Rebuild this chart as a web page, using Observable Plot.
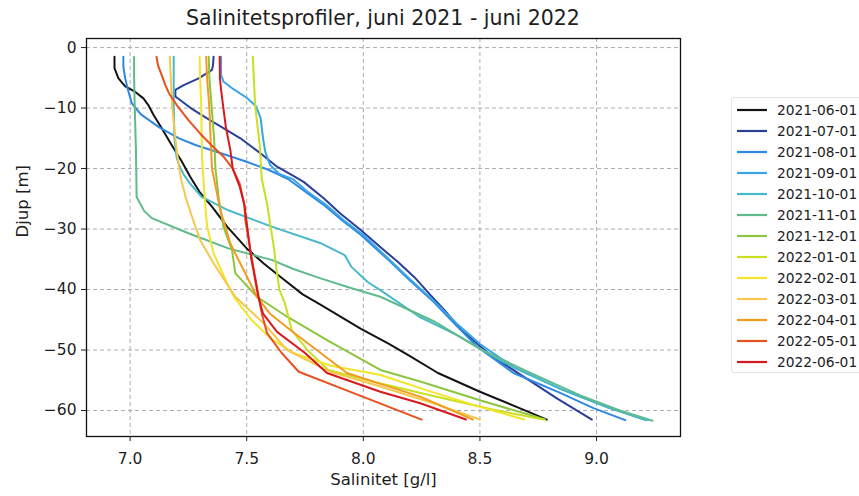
<!DOCTYPE html>
<html>
<head>
<meta charset="utf-8">
<script src="https://cdn.jsdelivr.net/npm/d3@7"></script>
<script src="https://cdn.jsdelivr.net/npm/@observablehq/plot@0.6"></script>
<style>
  html, body { margin: 0; padding: 0; background: #fff; }
  #wrap { position: relative; width: 859px; height: 496px; font-family: "DejaVu Sans", sans-serif; color: #1e1e1e; overflow: hidden; }
  #title { position: absolute; left: 86px; width: 594px; top: 5px; text-align: center; font-size: 20.5px; line-height: 26px; }
  #legend { position: absolute; left: 731px; top: 97px; width: 140px; height: 276px; border: 1px solid #e2e2e2; border-radius: 3px; box-sizing: border-box; }
  .row { position: absolute; left: 0; height: 20px; display: flex; align-items: center; font-size: 13.8px; }
  .row svg { margin-left: 5px; margin-right: 10px; }
</style>
</head>
<body>
<div id="wrap">
  <div id="title">Salinitetsprofiler, juni 2021 - juni 2022</div>
  <div id="chart"></div>
  <div id="legend"></div>
</div>
<script>
// Dates (series labels)
const dates = ["2021-06-01","2021-07-01","2021-08-01","2021-09-01","2021-10-01","2021-11-01","2021-12-01","2022-01-01","2022-02-01","2022-03-01","2022-04-01","2022-05-01","2022-06-01"];
const palette = ["#141414","#2b3f98","#2f88de","#37a6e8","#47b9c9","#5fba8c","#8cc63f","#c8df22","#f3e42c","#f6c74a","#f29b21","#e6521f","#d8191d"];

// [salinity g/l, depth m]
const jun21 = [[6.933,-1.5],[6.933,-3.4],[6.95,-5.1],[6.979,-6.4],[7.021,-7.3],[7.057,-8.4],[7.078,-9.5],[7.10,-11.1],[7.135,-13.3],[7.178,-16.1],[7.221,-18.8],[7.257,-21.3],[7.30,-24],[7.351,-26.3],[7.416,-29.6],[7.50,-33.2],[7.573,-35.7],[7.644,-37.9],[7.74,-40.8],[7.816,-42.5],[7.99,-46.5],[8.11,-49],[8.20,-51],[8.32,-53.8],[8.50,-56.9],[8.67,-59.6],[8.787,-61.5]];
const jul21 = [[7.358,-1.5],[7.355,-3],[7.351,-3.7],[7.294,-5.1],[7.23,-6.2],[7.194,-7.0],[7.194,-8.1],[7.26,-10],[7.33,-11.7],[7.40,-13.3],[7.473,-15],[7.56,-17.5],[7.63,-19.7],[7.70,-21.2],[7.744,-22.2],[7.83,-24.9],[7.90,-27.4],[7.99,-30.2],[8.07,-32.9],[8.15,-35.5],[8.22,-38],[8.29,-41],[8.35,-43.5],[8.42,-46.7],[8.544,-50.8],[8.687,-54.4],[8.83,-58],[8.98,-61.5]];
const aug21 = [[6.971,-1.5],[6.971,-3.1],[6.979,-5.1],[6.993,-7.3],[7.007,-9.2],[7.045,-11],[7.125,-13.2],[7.21,-15],[7.28,-16.1],[7.393,-17.5],[7.493,-18.8],[7.593,-20.2],[7.68,-21.8],[7.75,-23.8],[7.83,-26],[7.907,-28.5],[7.99,-31],[8.107,-35.1],[8.2,-38.5],[8.3,-42],[8.4,-46],[8.487,-49.4],[8.644,-53.8],[8.844,-57.1],[8.987,-59.6],[9.123,-61.6]];
const sep21 = [[7.39,-1.5],[7.39,-4.5],[7.40,-5.6],[7.44,-6.8],[7.50,-8.3],[7.54,-9.7],[7.56,-11.7],[7.57,-15],[7.58,-17.3],[7.60,-19.4],[7.64,-20.9],[7.70,-21.8],[7.76,-23.8],[7.84,-26],[7.915,-28.5],[8.0,-31],[8.11,-35],[8.2,-38.3],[8.3,-41.8],[8.4,-45.6],[8.5,-49],[8.65,-53],[8.85,-56.5],[9.05,-59.5],[9.21,-61.6]];
const oct21 = [[7.187,-1.5],[7.187,-9.5],[7.19,-15],[7.20,-18.3],[7.21,-19.4],[7.23,-21],[7.257,-22.5],[7.307,-24.7],[7.421,-26.9],[7.607,-29.6],[7.821,-32.4],[7.92,-34.3],[7.95,-36.3],[8.02,-38.8],[8.073,-40.1],[8.24,-44.5],[8.4,-47.5],[8.6,-52],[8.85,-56.5],[9.05,-59.5],[9.22,-61.6]];
const nov21 = [[7.017,-1.5],[7.017,-5],[7.02,-10],[7.025,-17],[7.028,-24.7],[7.06,-27],[7.093,-28.2],[7.25,-30.7],[7.421,-33.2],[7.607,-35.1],[7.70,-36.6],[7.82,-38.2],[7.95,-39.8],[8.073,-41.2],[8.3,-45.2],[8.5,-49.8],[8.7,-53.5],[8.93,-57.5],[9.1,-60],[9.24,-61.7]];
const dec21 = [[7.337,-1.5],[7.34,-5],[7.35,-10],[7.36,-15],[7.366,-20],[7.38,-25],[7.40,-29.6],[7.437,-33.5],[7.451,-37.3],[7.544,-41.2],[7.673,-44.5],[7.85,-48.5],[8.073,-53.3],[8.244,-55.2],[8.5,-58.3],[8.78,-61.5]];
const jan22 = [[7.526,-1.5],[7.536,-9.5],[7.557,-16.6],[7.564,-21.6],[7.587,-25.8],[7.616,-32.9],[7.628,-36.8],[7.64,-40],[7.664,-42.3],[7.693,-46.7],[7.76,-50],[7.85,-53.3],[8.07,-55.5],[8.3,-57.6],[8.55,-59.8],[8.77,-61.5]];
const feb22 = [[7.298,-1.5],[7.30,-5],[7.305,-10],[7.307,-15],[7.309,-18.6],[7.32,-25],[7.33,-29.6],[7.358,-34],[7.416,-39],[7.45,-41.5],[7.52,-45],[7.6,-48],[7.7,-50.5],[7.86,-52.6],[8.07,-54.1],[8.3,-57],[8.5,-59.4],[8.69,-61.5]];
const mar22 = [[7.17,-1.5],[7.18,-9.5],[7.194,-15],[7.208,-19.4],[7.22,-22],[7.24,-25],[7.27,-28.5],[7.30,-31.8],[7.358,-35.7],[7.451,-41.2],[7.573,-45.6],[7.673,-50],[7.859,-53.6],[8.07,-56],[8.3,-58.8],[8.50,-61.5]];
const apr22 = [[7.326,-1.5],[7.33,-5],[7.34,-10],[7.345,-15],[7.351,-20],[7.387,-26.9],[7.43,-32.4],[7.501,-37.9],[7.544,-41.2],[7.60,-44],[7.687,-46.7],[7.80,-50],[7.93,-53.8],[8.073,-55.6],[8.244,-57.7],[8.47,-61.5]];
const may22 = [[7.113,-1.5],[7.12,-3],[7.14,-5],[7.151,-6.2],[7.166,-7.5],[7.20,-9.5],[7.25,-12],[7.30,-14.2],[7.35,-16.2],[7.40,-18],[7.44,-20],[7.47,-22.5],[7.49,-26],[7.494,-28.5],[7.523,-35.1],[7.551,-41.2],[7.565,-44],[7.587,-47.2],[7.65,-50.5],[7.723,-53.6],[7.95,-57],[8.25,-61.5]];
const jun22 = [[7.384,-1.5],[7.385,-5],[7.39,-7],[7.40,-10],[7.41,-13],[7.43,-17],[7.44,-20],[7.47,-23],[7.49,-26],[7.50,-29],[7.52,-35],[7.55,-41.2],[7.57,-44],[7.63,-47],[7.75,-50.5],[7.844,-53.8],[8.073,-56.9],[8.244,-58.8],[8.44,-61.5]];

const series = [jun21, jul21, aug21, sep21, oct21, nov21, dec21, jan22, feb22, mar22, apr22, may22, jun22];
const salTicks = [7.0, 7.5, 8.0, 8.5, 9.0];
const depthTicks = [0, -10, -20, -30, -40, -50, -60];

const data = series.flatMap((pts, i) => pts.map(([s, d]) => ({date: dates[i], sal: s, depth: d})));

const chart = Plot.plot({
  width: 859, height: 496,
  marginLeft: 86, marginRight: 179, marginTop: 38, marginBottom: 60,
  style: {fontFamily: "DejaVu Sans, sans-serif", fontSize: "15px", color: "#1e1e1e", background: "transparent"},
  x: {domain: [6.813, 9.36]},
  y: {domain: [-64.3, 1.5]},
  color: {domain: dates, range: palette},
  marks: [
    Plot.gridX(salTicks, {stroke: "#9ea3ad", strokeOpacity: 1, strokeWidth: 0.9, strokeDasharray: "4,3"}),
    Plot.gridY(depthTicks, {stroke: "#9ea3ad", strokeOpacity: 1, strokeWidth: 0.9, strokeDasharray: "4,3"}),
    Plot.line(data, {x: "sal", y: "depth", z: "date", stroke: "date", strokeWidth: 2}),
    Plot.frame({stroke: "#111", strokeWidth: 1.3}),
    Plot.axisX(salTicks, {tickFormat: d => d.toFixed(1), tickSize: 5, tickPadding: 11, label: null, fontSize: 15.5}),
    Plot.axisY(depthTicks, {tickFormat: d => d === 0 ? "0" : "\u2212" + Math.abs(d), tickSize: 5, tickPadding: 5, label: null, fontSize: 15.5}),
    Plot.text(["Salinitet [g/l]"], {frameAnchor: "bottom", dy: 48, fontSize: 16.5}),
    Plot.text(["Djup [m]"], {frameAnchor: "left", dx: -64, rotate: -90, fontSize: 16.5})
  ]
});
document.getElementById("chart").appendChild(chart);

const legend = document.getElementById("legend");
dates.forEach((d, i) => {
  const row = document.createElement("div");
  row.className = "row";
  row.style.top = (2 + i * 21) + "px";
  row.innerHTML = `<svg width="30" height="4"><line x1="0" y1="2" x2="30" y2="2" stroke="${palette[i]}" stroke-width="2.2"/></svg><span>${d}</span>`;
  legend.appendChild(row);
});
</script>
</body>
</html>
